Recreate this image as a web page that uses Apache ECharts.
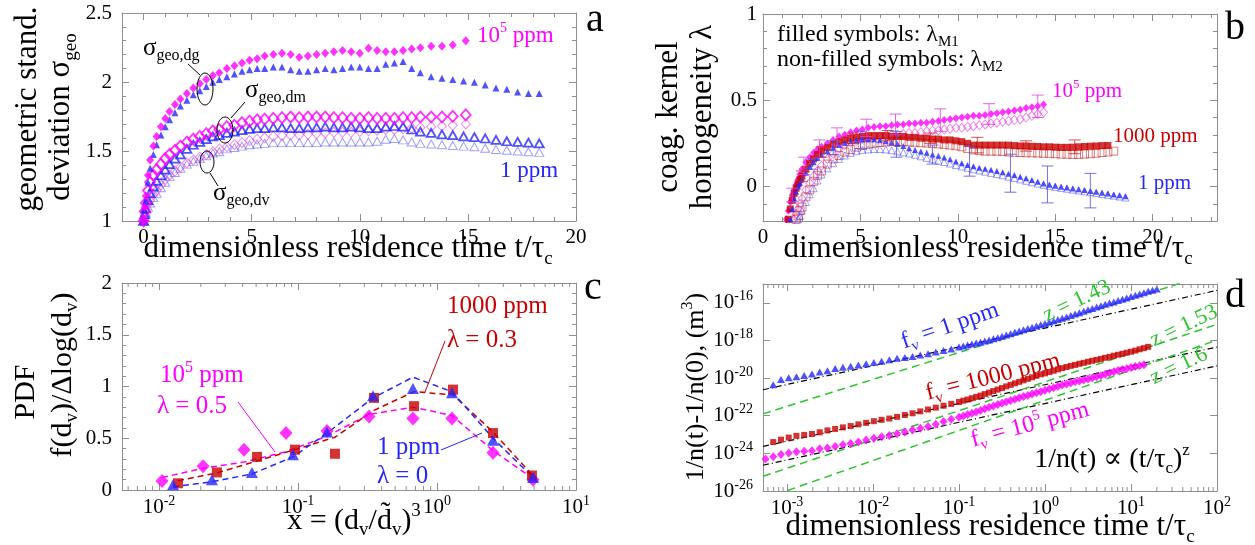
<!DOCTYPE html>
<html>
<head>
<meta charset="utf-8">
<title>Aggregate statistics, four panels</title>
<script src="https://cdn.jsdelivr.net/npm/echarts@6/dist/echarts.min.js"></script>
<style>
  html, body { margin: 0; padding: 0; background: #fff; }
  #chart { width: 1255px; height: 545px; }
</style>
</head>
<body>
<div id="chart"></div>
<script>
// ---------- panel a: geometric standard deviation vs t/tau_c ----------
const aTime1ppm = [0, 0.05, 0.1, 0.2, 0.3, 0.45, 0.6, 0.8, 1.0, 1.2, 1.45, 1.7, 2.0, 2.3, 2.6, 2.9, 3.2, 3.5, 3.85, 4.2, 4.55, 4.9, 5.25, 5.6, 6.0, 6.4, 6.8, 7.2, 7.6, 8.0, 8.4, 8.8, 9.2, 9.6, 10.0, 10.4, 10.8, 11.2, 11.6, 12.0, 12.4, 12.8, 13.3, 13.8, 14.3, 14.8, 15.3, 15.8, 16.3, 16.8, 17.3, 17.8, 18.3];
const aDg1ppm = [1.0, 1.08, 1.15, 1.28, 1.38, 1.48, 1.55, 1.62, 1.68, 1.73, 1.78, 1.83, 1.87, 1.91, 1.94, 1.97, 2.00, 2.02, 2.04, 2.06, 2.08, 2.09, 2.10, 2.10, 2.11, 2.11, 2.09, 2.08, 2.08, 2.09, 2.10, 2.09, 2.10, 2.11, 2.11, 2.10, 2.10, 2.13, 2.14, 2.15, 2.10, 2.07, 2.04, 2.03, 2.02, 2.01, 2.00, 1.98, 1.96, 1.95, 1.93, 1.92, 1.92];
const aDm1ppm = [1.0, 1.05, 1.09, 1.15, 1.20, 1.25, 1.29, 1.33, 1.37, 1.41, 1.45, 1.48, 1.52, 1.55, 1.57, 1.59, 1.61, 1.62, 1.635, 1.645, 1.655, 1.665, 1.67, 1.67, 1.675, 1.675, 1.67, 1.67, 1.675, 1.675, 1.68, 1.675, 1.675, 1.68, 1.675, 1.67, 1.67, 1.68, 1.685, 1.68, 1.66, 1.645, 1.635, 1.625, 1.62, 1.61, 1.605, 1.595, 1.585, 1.575, 1.57, 1.565, 1.56];
const aDv1ppm = [1.0, 1.03, 1.06, 1.10, 1.13, 1.17, 1.20, 1.24, 1.28, 1.32, 1.35, 1.38, 1.41, 1.43, 1.45, 1.47, 1.49, 1.50, 1.52, 1.53, 1.54, 1.55, 1.555, 1.56, 1.565, 1.565, 1.565, 1.565, 1.565, 1.565, 1.57, 1.57, 1.57, 1.57, 1.57, 1.57, 1.575, 1.59, 1.595, 1.585, 1.57, 1.56, 1.555, 1.55, 1.545, 1.54, 1.535, 1.525, 1.515, 1.51, 1.505, 1.50, 1.495];

const aTime1e5ppm = [0, 0.05, 0.1, 0.2, 0.3, 0.45, 0.6, 0.8, 1.0, 1.2, 1.45, 1.7, 2.0, 2.3, 2.6, 2.9, 3.2, 3.5, 3.85, 4.2, 4.55, 4.9, 5.25, 5.6, 6.0, 6.4, 6.8, 7.2, 7.6, 8.0, 8.4, 8.8, 9.2, 9.6, 10.0, 10.4, 10.8, 11.2, 11.6, 12.0, 12.4, 12.8, 13.3, 13.8, 14.3, 14.9];
const aDg1e5ppm = [1.0, 1.10, 1.18, 1.33, 1.44, 1.54, 1.61, 1.68, 1.74, 1.79, 1.84, 1.88, 1.92, 1.96, 1.99, 2.02, 2.05, 2.07, 2.10, 2.12, 2.14, 2.16, 2.17, 2.19, 2.20, 2.21, 2.20, 2.18, 2.19, 2.20, 2.21, 2.22, 2.23, 2.22, 2.21, 2.245, 2.23, 2.22, 2.22, 2.23, 2.24, 2.25, 2.26, 2.26, 2.27, 2.30];
const aDm1e5ppm = [1.0, 1.07, 1.13, 1.22, 1.28, 1.33, 1.37, 1.41, 1.45, 1.48, 1.51, 1.54, 1.57, 1.59, 1.61, 1.63, 1.65, 1.66, 1.68, 1.69, 1.71, 1.72, 1.73, 1.735, 1.74, 1.745, 1.75, 1.745, 1.75, 1.75, 1.75, 1.745, 1.745, 1.74, 1.74, 1.745, 1.74, 1.74, 1.74, 1.745, 1.745, 1.75, 1.75, 1.75, 1.755, 1.765];
const aDv1e5ppm = [1.0, 1.04, 1.08, 1.12, 1.15, 1.19, 1.22, 1.26, 1.30, 1.33, 1.36, 1.39, 1.42, 1.44, 1.46, 1.48, 1.50, 1.52, 1.535, 1.55, 1.565, 1.58, 1.59, 1.60, 1.61, 1.615, 1.62, 1.62, 1.625, 1.63, 1.635, 1.64, 1.64, 1.64, 1.645, 1.65, 1.655, 1.66, 1.66, 1.665, 1.67, 1.675, 1.68, 1.685, 1.69, 1.70];

// ---------- panel b: coagulation kernel homogeneity ----------
const bTime = [1.2, 1.3, 1.4, 1.5, 1.6, 1.7, 1.8, 1.9, 2.0, 2.2, 2.4, 2.6, 2.8, 3.0, 3.3, 3.6, 3.9, 4.2, 4.5, 4.8, 5.1, 5.4, 5.7, 6.0, 6.3, 6.6, 6.9, 7.2, 7.5, 7.8, 8.1, 8.4, 8.7, 9.0, 9.3, 9.6, 9.9, 10.2, 10.5, 10.8, 11.1, 11.4, 11.7, 12.0, 12.3, 12.6, 12.9, 13.2, 13.5, 13.8, 14.1, 14.4, 14.7, 15.0, 15.3, 15.6, 15.9, 16.2, 16.5, 16.8, 17.1, 17.4, 17.7, 18.0, 18.3, 18.6];
const bM1_1e5 = [-0.19, -0.14, -0.09, -0.05, -0.02, 0.01, 0.04, 0.07, 0.10, 0.14, 0.17, 0.195, 0.215, 0.23, 0.25, 0.27, 0.29, 0.30, 0.315, 0.325, 0.33, 0.34, 0.345, 0.35, 0.35, 0.355, 0.36, 0.36, 0.365, 0.365, 0.37, 0.37, 0.375, 0.38, 0.385, 0.39, 0.395, 0.40, 0.405, 0.41, 0.41, 0.415, 0.42, 0.425, 0.43, 0.435, 0.44, 0.445, 0.455, 0.46, 0.465, 0.475, null, null, null, null, null, null, null, null, null, null, null, null, null, null];
const bM2_1e5 = [null, null, null, null, -0.19, -0.16, -0.13, -0.10, -0.07, -0.02, 0.02, 0.06, 0.09, 0.12, 0.16, 0.19, 0.22, 0.24, 0.255, 0.265, 0.275, 0.28, 0.29, 0.29, 0.295, 0.30, 0.30, 0.305, 0.31, 0.31, 0.315, 0.32, 0.325, 0.325, 0.33, 0.335, 0.34, 0.34, 0.345, 0.35, 0.355, 0.36, 0.365, 0.37, 0.375, 0.38, 0.385, 0.39, 0.40, 0.41, 0.42, 0.43, null, null, null, null, null, null, null, null, null, null, null, null, null, null];
const bM1_1000 = [null, -0.19, -0.13, -0.08, -0.04, -0.01, 0.015, 0.04, 0.06, 0.10, 0.135, 0.16, 0.185, 0.205, 0.225, 0.245, 0.26, 0.27, 0.28, 0.285, 0.29, 0.295, 0.295, 0.295, 0.295, 0.29, 0.29, 0.29, 0.285, 0.285, 0.28, 0.28, 0.275, 0.275, 0.27, 0.27, 0.265, 0.26, 0.25, 0.24, 0.24, 0.24, 0.24, 0.24, 0.24, 0.24, 0.237, 0.235, 0.235, 0.233, 0.232, 0.23, 0.23, 0.228, 0.227, 0.227, 0.228, 0.23, 0.232, 0.234, 0.235, 0.237, 0.238, null, null, null];
const bM2_1000 = [null, null, null, null, null, -0.19, -0.17, -0.14, -0.12, -0.06, -0.02, 0.03, 0.065, 0.09, 0.13, 0.16, 0.18, 0.20, 0.215, 0.228, 0.238, 0.245, 0.25, 0.255, 0.258, 0.26, 0.26, 0.26, 0.258, 0.256, 0.254, 0.252, 0.25, 0.247, 0.244, 0.24, 0.236, 0.23, 0.22, 0.212, 0.208, 0.205, 0.205, 0.205, 0.203, 0.20, 0.198, 0.197, 0.196, 0.195, 0.194, 0.193, 0.192, 0.19, 0.188, 0.187, 0.186, 0.186, 0.188, 0.19, 0.193, 0.197, 0.20, 0.205, null, null];
const bM1_1 = [null, null, -0.19, -0.13, -0.07, -0.03, 0.0, 0.02, 0.045, 0.08, 0.115, 0.14, 0.165, 0.185, 0.205, 0.225, 0.24, 0.252, 0.262, 0.27, 0.273, 0.274, 0.272, 0.268, 0.262, 0.255, 0.247, 0.235, 0.222, 0.212, 0.203, 0.195, 0.186, 0.178, 0.168, 0.158, 0.145, 0.135, 0.125, 0.117, 0.109, 0.103, 0.097, 0.09, 0.083, 0.074, 0.066, 0.057, 0.048, 0.038, 0.028, 0.018, 0.01, 0.004, -0.001, -0.006, -0.011, -0.016, -0.021, -0.026, -0.031, -0.036, -0.041, -0.046, -0.051, -0.056];
const bM2_1 = [null, null, null, null, null, null, -0.19, -0.17, -0.14, -0.09, -0.045, -0.01, 0.035, 0.07, 0.105, 0.135, 0.16, 0.18, 0.195, 0.205, 0.212, 0.215, 0.217, 0.217, 0.215, 0.21, 0.204, 0.198, 0.192, 0.184, 0.175, 0.166, 0.158, 0.15, 0.142, 0.133, 0.124, 0.116, 0.108, 0.10, 0.093, 0.086, 0.079, 0.072, 0.065, 0.057, 0.049, 0.041, 0.033, 0.025, 0.017, 0.01, 0.004, -0.002, -0.008, -0.013, -0.018, -0.023, -0.028, -0.033, -0.038, -0.043, -0.048, -0.053, -0.058, -0.064];
// error bars: time, centre, half width
const bErr1e5T = [1.5, 2.1, 2.9, 3.8, 5.3, 6.8, 9.1, 11.6, 14.1];
const bErr1e5Mid = [-0.05, 0.12, 0.22, 0.29, 0.34, 0.36, 0.385, 0.42, 0.465];
const bErr1e5Half = [0.04, 0.05, 0.05, 0.05, 0.05, 0.06, 0.065, 0.06, 0.065];
const bErr1000T = [2.0, 3.0, 4.6, 6.4, 8.6, 11.0, 13.5, 16.0];
const bErr1000Mid = [0.06, 0.2, 0.28, 0.295, 0.28, 0.24, 0.235, 0.23];
const bErr1000Half = [0.03, 0.03, 0.03, 0.03, 0.03, 0.045, 0.03, 0.04];
const bErr1T = [2.5, 3.6, 5.0, 6.85, 8.7, 10.6, 12.7, 14.6, 16.8];
const bErr1Mid = [0.13, 0.225, 0.27, 0.245, 0.185, 0.147, 0.077, 0.012, -0.024];
const bErr1Half = [0.03, 0.04, 0.05, 0.075, 0.055, 0.087, 0.11, 0.107, 0.10];

// ---------- panel c: PDF of x = (dv/dv~)^3, x given as log10 ----------
const cX1e5 = [-1.978, -1.683, -1.388, -1.086, -0.791, -0.489, -0.173, 0.108, 0.403, 0.691];
const cPdf1e5 = [0.087, 0.23, 0.39, 0.55, 0.57, 0.71, 0.69, 0.69, 0.36, 0.10];
const cFit1e5 = [0.12, 0.21, 0.27, 0.37, 0.52, 0.73, 0.80, 0.72, 0.38, 0.11];
const cX1000 = [-1.863, -1.583, -1.295, -1.022, -0.734, -0.453, -0.165, 0.115, 0.403, 0.683];
const cPdf1000 = [0.065, 0.17, 0.32, 0.39, 0.35, 0.89, 0.81, 0.97, 0.55, 0.14];
const cFit1000 = [0.09, 0.165, 0.28, 0.39, 0.51, 0.77, 0.95, 0.92, 0.56, 0.15];
const cX1 = [-1.899, -1.619, -1.331, -1.036, -0.791, -0.460, -0.173, 0.108, 0.403, 0.691];
const cPdf1 = [0.05, 0.10, 0.17, 0.34, 0.56, 0.91, 0.98, 0.94, 0.48, 0.12];
const cFit1 = [0.03, 0.08, 0.155, 0.32, 0.55, 0.89, 1.09, 0.95, 0.50, 0.12];

// ---------- panel d: 1/n(t)-1/n(0), both axes as log10 ----------
const dLogT = [-3.25, -3.16, -3.07, -2.98, -2.89, -2.80, -2.71, -2.62, -2.53, -2.44, -2.35, -2.26, -2.17, -2.08, -1.99, -1.90, -1.81, -1.72, -1.63, -1.54, -1.45, -1.36, -1.27, -1.18, -1.09, -1.00, -0.95, -0.90, -0.85, -0.80, -0.75, -0.70, -0.65, -0.60, -0.55, -0.50, -0.45, -0.40, -0.35, -0.30, -0.25, -0.20, -0.15, -0.10, -0.05, 0.00, 0.05, 0.10, 0.15, 0.20, 0.25, 0.30, 0.35, 0.40, 0.45, 0.50, 0.55, 0.60, 0.65, 0.70, 0.75, 0.80, 0.85, 0.90, 0.95, 1.00, 1.05, 1.10, 1.15, 1.20, 1.25, 1.30];
const dLogN1 = [null, -20.35, -20.07, -19.98, -19.93, -19.86, -19.78, -19.67, -19.61, -19.49, -19.43, -19.37, -19.31, -19.24, -19.17, -19.10, -19.02, -18.95, -18.90, -18.85, -18.77, -18.70, -18.62, -18.54, -18.45, -18.35, -18.30, -18.24, -18.19, -18.14, -18.09, -18.03, -17.98, -17.91, -17.85, -17.78, -17.71, -17.64, -17.57, -17.50, -17.43, -17.36, -17.30, -17.23, -17.16, -17.10, -17.03, -16.96, -16.89, -16.82, -16.75, -16.68, -16.60, -16.53, -16.45, -16.37, -16.30, -16.22, -16.15, -16.08, -16.01, -15.95, -15.88, -15.81, -15.74, -15.67, -15.60, -15.53, -15.46, -15.39, -15.33, -15.27];
const dLogN1000 = [null, -23.40, -23.27, -23.16, -23.07, -23.02, -22.97, -22.88, -22.78, -22.70, -22.62, -22.55, -22.46, -22.38, -22.29, -22.22, -22.15, -22.06, -21.96, -21.87, -21.77, -21.67, -21.57, -21.47, -21.37, -21.27, -21.20, -21.14, -21.07, -21.00, -20.93, -20.85, -20.77, -20.69, -20.61, -20.53, -20.44, -20.36, -20.28, -20.20, -20.12, -20.04, -19.96, -19.88, -19.80, -19.75, -19.68, -19.61, -19.54, -19.47, -19.41, -19.35, -19.30, -19.24, -19.19, -19.13, -19.08, -19.03, -18.98, -18.92, -18.87, -18.81, -18.76, -18.71, -18.65, -18.60, -18.54, -18.47, -18.41, -18.34, null, null];
const dLogN1e5 = [-24.30, -24.18, -24.06, -23.98, -23.91, -23.89, -23.86, -23.75, -23.71, -23.64, -23.54, -23.47, -23.39, -23.29, -23.20, -23.12, -23.05, -22.96, -22.86, -22.76, -22.67, -22.57, -22.45, -22.31, -22.19, -22.08, -22.01, -21.94, -21.87, -21.80, -21.72, -21.63, -21.55, -21.48, -21.41, -21.34, -21.26, -21.19, -21.12, -21.05, -20.98, -20.92, -20.85, -20.78, -20.72, -20.65, -20.58, -20.51, -20.44, -20.37, -20.31, -20.26, -20.20, -20.15, -20.10, -20.05, -19.99, -19.93, -19.87, -19.80, -19.73, -19.66, -19.60, -19.55, -19.50, -19.44, -19.39, -19.34, -19.29, null, null, null];
// reference lines (end points across the panel)
const dLineT = [-3.279, 2];
const dSlope1Line1 = [-20.62, -15.34];
const dSlope1Line1000 = [-23.63, -18.35];
const dSlope1Line1e5 = [-24.63, -19.35];
const dFitLine1 = [-21.90, -14.35];
const dFitLine1000 = [-25.22, -17.14];
const dFitLine1e5 = [-26.43, -17.98];

// ---------- styling ----------
const FONT = "'Liberation Serif', 'DejaVu Serif', serif";
const AXC = '#8f8f8f';
const MAG = '#ff00ff', MAG_L = 'rgba(225,60,225,0.75)';
const BLU = '#2626ff', BLU_L = 'rgba(70,70,255,0.65)';
const RED = '#c80000', RED_L = 'rgba(200,40,40,0.75)';
const GRN = '#2fc42f';

const pairs = (xs, ys) => xs.map((x, i) => [x, ys[i]]).filter(p => p[1] != null);

function axis(grid, position, min, max, step, opts) {
  opts = opts || {};
  const labelled = position === 'bottom' || position === 'left';
  const label = { show: false };
  if (labelled) {
    Object.assign(label, {
      show: true, margin: opts.margin == null ? 7 : opts.margin,
      fontFamily: FONT, fontSize: 21, color: '#000',
      showMinLabel: opts.showMin !== false, showMaxLabel: opts.showMax !== false
    });
    if (opts.log) {
      label.formatter = v => '10{s|' + Math.round(v) + '}';
      label.lineHeight = 26;
      label.rich = { s: { fontFamily: FONT, fontSize: 14, lineHeight: 14, verticalAlign: 'top', color: '#000' } };
    }
  }
  return {
    type: 'value', gridIndex: grid, position, min, max,
    minInterval: step, maxInterval: step,
    axisLine: { show: true, onZero: false, lineStyle: { color: AXC, width: 1 } },
    axisTick: { show: true, inside: true, length: 7, lineStyle: { color: AXC, width: 1 } },
    minorTick: { show: opts.minor !== false, splitNumber: 5, length: 4, lineStyle: { color: AXC, width: 1 } },
    splitLine: { show: false },
    axisLabel: label
  };
}

function scatter(panel, data, symbol, size, color, open, width) {
  return {
    type: 'scatter', xAxisIndex: panel * 2, yAxisIndex: panel * 2, data, symbol, symbolSize: size,
    silent: true, animation: false,
    itemStyle: open ? { color: 'rgba(0,0,0,0)', borderColor: color, borderWidth: width || 1 } : { color: color }
  };
}
function line(panel, data, color, dash, width) {
  return {
    type: 'line', xAxisIndex: panel * 2, yAxisIndex: panel * 2, data, symbol: 'none', silent: true,
    lineStyle: { color, width: width || 1.5, type: dash }, z: 1
  };
}
function errorBars(ts, mids, halves, color) {
  return {
    type: 'custom', xAxisIndex: 2, yAxisIndex: 2, silent: true, z: 3,
    data: ts.map((t, i) => [t, mids[i] - halves[i], mids[i] + halves[i]]),
    encode: { x: 0, y: [1, 2] },
    renderItem: (params, api) => {
      const lo = api.coord([api.value(0), api.value(1)]);
      const hi = api.coord([api.value(0), api.value(2)]);
      const st = { stroke: color, lineWidth: 1 };
      return { type: 'group', children: [
        { type: 'line', shape: { x1: lo[0], y1: lo[1], x2: hi[0], y2: hi[1] }, style: st },
        { type: 'line', shape: { x1: lo[0] - 6, y1: lo[1], x2: lo[0] + 6, y2: lo[1] }, style: st },
        { type: 'line', shape: { x1: hi[0] - 6, y1: hi[1], x2: hi[0] + 6, y2: hi[1] }, style: st }
      ] };
    }
  };
}
// minor ticks of a log10 axis drawn on the bottom and top edge
function logMinorTicks(panel, lo, hi, yMin, yMax) {
  const pos = [];
  for (let n = Math.floor(lo); n < hi; n++) {
    for (let k = 2; k <= 9; k++) {
      const v = n + Math.log10(k);
      if (v > lo && v < hi) pos.push([v, yMin]);
    }
  }
  return {
    type: 'custom', xAxisIndex: panel * 2, yAxisIndex: panel * 2, silent: true, z: 5, data: pos,
    renderItem: (params, api) => {
      const b = api.coord([api.value(0), yMin]);
      const t = api.coord([api.value(0), yMax]);
      const st = { stroke: AXC, lineWidth: 1 };
      return { type: 'group', children: [
        { type: 'line', shape: { x1: b[0], y1: b[1], x2: b[0], y2: b[1] - 4 }, style: st },
        { type: 'line', shape: { x1: t[0], y1: t[1], x2: t[0], y2: t[1] + 4 }, style: st }
      ] };
    }
  };
}

function txt(x, y, text, size, color, opts) {
  opts = opts || {};
  const s = Math.round(size * 0.62);
  return {
    type: 'text', x, y, rotation: opts.rot || 0, silent: true, z: 100,
    style: {
      text, fontFamily: FONT, fontSize: size, fill: color || '#000',
      lineHeight: Math.round(size * 1.25),
      align: opts.align || 'center', verticalAlign: 'middle',
      rich: {
        sub: { fontFamily: FONT, fontSize: s, lineHeight: s, verticalAlign: 'bottom' },
        sup: { fontFamily: FONT, fontSize: s, lineHeight: s, verticalAlign: 'top' }
      }
    }
  };
}
function seg(x1, y1, x2, y2, color) {
  return { type: 'line', silent: true, z: 100, shape: { x1, y1, x2, y2 }, style: { stroke: color || '#000', lineWidth: 1 } };
}
function ring(cx, cy, rx, ry) {
  return { type: 'ellipse', silent: true, z: 100, shape: { cx, cy, rx, ry }, style: { fill: 'none', stroke: '#000', lineWidth: 1 } };
}

const UP = Math.PI / 2;
const XTITLE = 'dimensionless residence time t/τ{sub|c}';

const option = {
  animation: false,
  backgroundColor: '#fff',
  textStyle: { fontFamily: FONT },
  grid: [
    { left: 122, top: 13, width: 454, height: 208, outerBoundsMode: 'none' },
    { left: 763, top: 14, width: 454, height: 207, outerBoundsMode: 'none' },
    { left: 122, top: 283, width: 454, height: 207, outerBoundsMode: 'none' },
    { left: 763, top: 284, width: 454, height: 207, outerBoundsMode: 'none' }
  ],
  xAxis: [
    axis(0, 'bottom', -1, 20, 5, { showMin: false, margin: 6 }),
    axis(0, 'top', -1, 20, 5),
    axis(1, 'bottom', 0, 23.3, 5, { showMax: false, margin: 6 }),
    axis(1, 'top', 0, 23.3, 5),
    axis(2, 'bottom', -2.266, 1, 1, { log: true, minor: false, showMin: false, margin: 4 }),
    axis(2, 'top', -2.266, 1, 1, { minor: false }),
    axis(3, 'bottom', -3.279, 2, 1, { log: true, minor: false, showMin: false, margin: 4 }),
    axis(3, 'top', -3.279, 2, 1, { minor: false })
  ],
  yAxis: [
    axis(0, 'left', 1, 2.5, 0.5, { margin: 10 }),
    axis(0, 'right', 1, 2.5, 0.5),
    axis(1, 'left', -0.2, 1, 0.5, { showMin: false, margin: 6 }),
    axis(1, 'right', -0.2, 1, 0.5),
    axis(2, 'left', 0, 2, 0.5, { margin: 10 }),
    axis(2, 'right', 0, 2, 0.5),
    axis(3, 'left', -26, -15, 2, { log: true, minor: false, showMax: false, margin: 10 }),
    axis(3, 'right', -26, -15, 2, { minor: false })
  ],
  series: [
    // panel a
    scatter(0, pairs(aTime1ppm, aDv1ppm), 'triangle', [9, 8], BLU_L, true, 1),
    scatter(0, pairs(aTime1e5ppm, aDv1e5ppm), 'diamond', [9, 10], MAG_L, true, 1),
    scatter(0, pairs(aTime1ppm, aDm1ppm), 'triangle', [9, 8], BLU, true, 1.8),
    scatter(0, pairs(aTime1e5ppm, aDm1e5ppm), 'diamond', [10, 11], MAG, true, 1.8),
    scatter(0, pairs(aTime1ppm, aDg1ppm), 'triangle', [7, 7], BLU),
    scatter(0, pairs(aTime1e5ppm, aDg1e5ppm), 'diamond', [8, 9], MAG),
    // panel b
    scatter(1, pairs(bTime, bM2_1e5), 'diamond', [8, 9], MAG_L, true, 1),
    scatter(1, pairs(bTime, bM2_1000), 'rect', [8, 8], RED_L, true, 1),
    scatter(1, pairs(bTime, bM2_1), 'triangle', [7, 7], BLU_L, true, 1),
    errorBars(bErr1e5T, bErr1e5Mid, bErr1e5Half, 'rgba(225,60,225,0.8)'),
    errorBars(bErr1000T, bErr1000Mid, bErr1000Half, 'rgba(200,40,40,0.8)'),
    errorBars(bErr1T, bErr1Mid, bErr1Half, 'rgba(80,80,230,0.8)'),
    scatter(1, pairs(bTime, bM1_1e5), 'diamond', [7, 8], MAG),
    scatter(1, pairs(bTime, bM1_1000), 'rect', [7, 7], RED),
    scatter(1, pairs(bTime, bM1_1), 'triangle', [6, 6], BLU),
    // panel c
    line(2, pairs(cX1e5, cFit1e5), MAG, [6, 4], 1.5),
    line(2, pairs(cX1000, cFit1000), RED, [6, 4], 1.5),
    line(2, pairs(cX1, cFit1), BLU, [6, 4], 1.5),
    scatter(2, pairs(cX1e5, cPdf1e5), 'diamond', [13, 14], MAG),
    scatter(2, pairs(cX1000, cPdf1000), 'rect', [10, 10], RED),
    scatter(2, pairs(cX1, cPdf1), 'triangle', [12, 11], BLU),
    logMinorTicks(2, -2.266, 1, 0, 2),
    // panel d
    line(3, pairs(dLineT, dSlope1Line1), '#000', [6, 3, 1, 3], 1.2),
    line(3, pairs(dLineT, dSlope1Line1000), '#000', [6, 3, 1, 3], 1.2),
    line(3, pairs(dLineT, dSlope1Line1e5), '#000', [6, 3, 1, 3], 1.2),
    line(3, pairs(dLineT, dFitLine1), GRN, [8, 5], 1.5),
    line(3, pairs(dLineT, dFitLine1000), GRN, [8, 5], 1.5),
    line(3, pairs(dLineT, dFitLine1e5), GRN, [8, 5], 1.5),
    scatter(3, pairs(dLogT, dLogN1000), 'rect', [6, 6], RED),
    scatter(3, pairs(dLogT, dLogN1e5), 'diamond', [8, 9], MAG),
    scatter(3, pairs(dLogT, dLogN1), 'triangle', [8, 7], BLU),
    logMinorTicks(3, -3.279, 2, -26, -15)
  ],
  graphic: { elements: [
    // panel a
    txt(595, 20, 'a', 40),
    txt(348, 249, XTITLE, 31),
    txt(28, 109, 'geometric stand.', 31, '#000', { rot: UP }),
    txt(61, 117, 'deviation σ{sub|geo}', 31, '#000', { rot: UP }),
    txt(143, 48, 'σ{sub|geo,dg}', 25, '#000', { align: 'left' }),
    ring(205, 89, 8, 16), seg(188, 64, 200, 75),
    txt(245, 90, 'σ{sub|geo,dm}', 25, '#000', { align: 'left' }),
    ring(225, 130, 8, 13), seg(231, 118, 245, 102),
    txt(213, 193, 'σ{sub|geo,dv}', 25, '#000', { align: 'left' }),
    ring(207, 162, 7, 11), seg(210, 173, 218, 186),
    txt(477, 36, '10{sup|5} ppm', 23, MAG, { align: 'left' }),
    txt(500, 171, '1 ppm', 23, BLU, { align: 'left' }),
    // panel b
    txt(1235, 28, 'b', 40),
    txt(988, 249, XTITLE, 31),
    txt(669, 117, 'coag. kernel', 31, '#000', { rot: UP }),
    txt(703, 117, 'homogeneity λ', 31, '#000', { rot: UP }),
    txt(777, 35, 'filled symbols: λ{sub|M1}', 24, '#000', { align: 'left' }),
    txt(777, 60, 'non-filled symbols: λ{sub|M2}', 24, '#000', { align: 'left' }),
    txt(1052, 91, '10{sup|5} ppm', 21, MAG, { align: 'left' }),
    txt(1113, 136, '1000 ppm', 21, RED, { align: 'left' }),
    txt(1138, 183, '1 ppm', 21, BLU, { align: 'left' }),
    // panel c
    txt(593, 288, 'c', 40),
    txt(354, 521, 'x = (d{sub|v}/d\u0303{sub|v}){sup|3}', 30),
    txt(26, 392, 'PDF', 30, '#000', { rot: UP }),
    txt(63, 375, 'f(d{sub|v})/Δlog(d{sub|v})', 30, '#000', { rot: UP }),
    txt(160, 375, '10{sup|5} ppm', 25, MAG, { align: 'left' }),
    txt(157, 406, 'λ = 0.5', 25, MAG, { align: 'left' }),
    seg(238, 402, 275, 452, MAG),
    txt(447, 306, '1000 ppm', 25, RED, { align: 'left' }),
    txt(447, 340, 'λ = 0.3', 25, RED, { align: 'left' }),
    seg(445, 341, 425, 392, RED),
    txt(377, 447, '1 ppm', 25, BLU, { align: 'left' }),
    txt(377, 476, 'λ = 0', 25, BLU, { align: 'left' }),
    seg(441, 450, 482, 433, BLU),
    // panel d
    txt(1235, 296, 'd', 40),
    txt(990, 527, XTITLE, 31),
    txt(696, 387, '1/n(t)-1/n(0), (m{sup|3})', 26, '#000', { rot: UP }),
    txt(950, 326, 'f{sub|v} = 1 ppm', 24, BLU, { rot: 0.33 }),
    txt(993, 377, 'f{sub|v} = 1000 ppm', 24, RED, { rot: 0.245 }),
    txt(1030, 425, 'f{sub|v} = 10{sup|5} ppm', 24, MAG, { rot: 0.26 }),
    txt(1077, 301, 'z = 1.43', 22, GRN, { rot: 0.44 }),
    txt(1184, 326, 'z = 1.53', 22, GRN, { rot: 0.44 }),
    txt(1179, 366, 'z = 1.6', 22, GRN, { rot: 0.44 }),
    txt(1112, 460, '1/n(t) ∝ (t/τ{sub|c}){sup|z}', 28)
  ] }
};

const chart = echarts.init(document.getElementById('chart'));
chart.setOption(option);
window.addEventListener('resize', () => chart.resize());
</script>
</body>
</html>
